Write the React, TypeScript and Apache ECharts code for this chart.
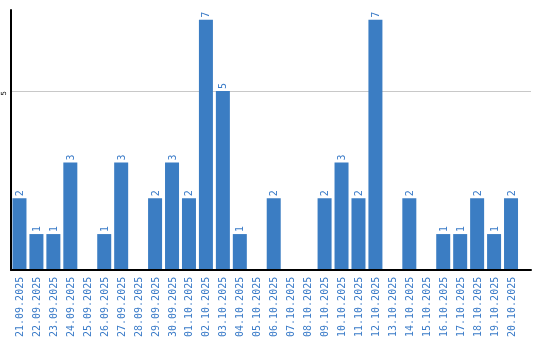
import React, { useEffect, useRef } from "react";
import * as echarts from "echarts";

const categories = [
  "21.09.2025", "22.09.2025", "23.09.2025", "24.09.2025", "25.09.2025",
  "26.09.2025", "27.09.2025", "28.09.2025", "29.09.2025", "30.09.2025",
  "01.10.2025", "02.10.2025", "03.10.2025", "04.10.2025", "05.10.2025",
  "06.10.2025", "07.10.2025", "08.10.2025", "09.10.2025", "10.10.2025",
  "11.10.2025", "12.10.2025", "13.10.2025", "14.10.2025", "15.10.2025",
  "16.10.2025", "17.10.2025", "18.10.2025", "19.10.2025", "20.10.2025",
];
const values = [2, 1, 1, 3, 0, 1, 3, 0, 2, 3, 2, 7, 5, 1, 0, 2, 0, 0, 2, 3, 2, 7, 0, 2, 0, 1, 1, 2, 1, 2];
const yTickLabels = [5];
const gridLineValues = [5];
const Y_MAX = 7.27;

const BAR = "#3b7dc3";
const TXT = "#3a7bc8";

export default function App() {
  const ref = useRef<HTMLDivElement>(null);
  useEffect(() => {
    const chart = echarts.init(ref.current!, null, { renderer: "svg" });
    chart.setOption({
      animation: false,
      grid: [
        { left: 9.5, width: 510, top: 10, bottom: 70 },
        { left: 11, right: 9, top: 10, bottom: 70 },
      ],
      xAxis: [
        {
          type: "category",
          gridIndex: 0,
          data: categories,
          axisLine: { show: false },
          axisTick: { show: false },
          axisLabel: {
            interval: 0,
            rotate: 90,
            margin: 7,
            fontFamily: "DejaVu Sans Mono",
            fontSize: 10,
            color: TXT,
          },
        },
        {
          type: "value",
          gridIndex: 1,
          min: 0,
          max: 1,
          axisLine: { show: true, onZero: false, lineStyle: { color: "#000", width: 2 } },
          axisTick: { show: false },
          axisLabel: { show: false },
          splitLine: { show: false },
          z: 10,
        },
      ],
      yAxis: [
        {
          type: "value",
          gridIndex: 0,
          min: 0,
          max: Y_MAX,
          interval: 5,
          axisLine: { show: false },
          axisTick: { show: false },
          splitLine: { show: false },
          axisLabel: {
            rotate: 90,
            margin: 4,
            align: "right",
            fontFamily: "DejaVu Sans",
            fontSize: 7,
            color: "#000",
            formatter: (v: number) => (yTickLabels.includes(v) ? String(v) : ""),
          },
        },
        {
          type: "value",
          gridIndex: 1,
          min: 0,
          max: Y_MAX,
          axisLine: { show: true, onZero: false, lineStyle: { color: "#000", width: 2 } },
          axisTick: { show: false },
          axisLabel: { show: false },
          splitLine: { show: false },
          z: 10,
        },
      ],
      series: [
        {
          type: "bar",
          xAxisIndex: 0,
          yAxisIndex: 0,
          data: values,
          barWidth: 14,
          z: 2,
          itemStyle: { color: BAR },
          label: {
            show: true,
            position: "top",
            rotate: 90,
            distance: 2,
            align: "left",
            verticalAlign: "middle",
            fontFamily: "DejaVu Sans Mono",
            fontSize: 10,
            color: TXT,
            formatter: (p: any) => (p.value ? String(p.value) : ""),
          },
        },
        {
          type: "line",
          xAxisIndex: 1,
          yAxisIndex: 1,
          data: [],
          z: 1,
          markLine: {
            silent: true,
            z: 1,
            symbol: "none",
            label: { show: false },
            lineStyle: { color: "#c8c8c8", type: "solid", width: 1 },
            data: gridLineValues.map((v) => ({ yAxis: v })),
          },
        },
      ],
    });
    return () => chart.dispose();
  }, []);
  return (
    <div
      ref={ref}
      style={{ position: "fixed", left: 0, top: 0, width: 540, height: 340 }}
    />
  );
}
